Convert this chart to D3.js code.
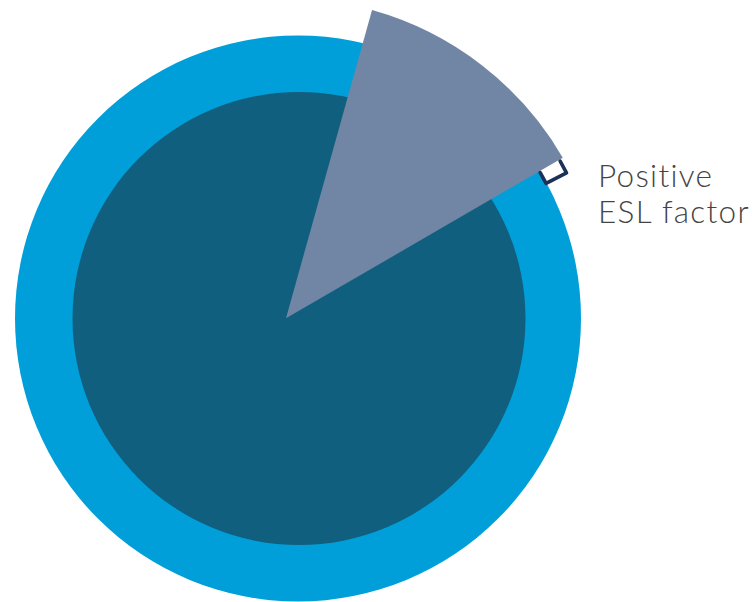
<!DOCTYPE html>
<html>
<head>
<meta charset="utf-8">
<script src="https://cdn.jsdelivr.net/npm/d3@7"></script>
<style>
  html, body { margin: 0; padding: 0; background: #ffffff; }
  svg { display: block; }
</style>
</head>
<body>
<div id="chart"></div>
<script>
// Share of respondents by ESL factor (percent)
const categories = ["Positive ESL factor", "Other"];
const values = [12.3, 87.7];
const labelLines = ["Positive", "ESL factor"];

const width = 756, height = 602;
const svg = d3.select("#chart").append("svg")
  .attr("width", width).attr("height", height);

// Background discs
svg.append("circle").attr("cx", 298).attr("cy", 318.5).attr("r", 283)
  .attr("fill", "#009fd9");
svg.append("circle").attr("cx", 299).attr("cy", 318.5).attr("r", 226.5)
  .attr("fill", "#115f7e");

// Highlighted slice, pulled out beyond the ring
const startDeg = 15.6;
const pie = d3.pie().sort(null).value(d => d)
  .startAngle(startDeg * Math.PI / 180)
  .endAngle(startDeg * Math.PI / 180 + 2 * Math.PI);
const arcs = pie(values);

const sliceR = 320;
const g = svg.append("g").attr("transform", "translate(286,318.3)");
const arc = d3.arc().innerRadius(0).outerRadius(sliceR);
g.append("path").datum(arcs[0]).attr("d", arc).attr("fill", "#7186a5");

// Bracket marking the pulled-out edge of the slice
const endA = arcs[0].endAngle;
const pt = (a, r) => [r * Math.sin(a), -r * Math.cos(a)];
const legA = endA + 0.3 * Math.PI / 180;
const baseA = endA + 2.7 * Math.PI / 180;
const r0 = 293, r1 = 316;
const bracket = [pt(legA, r0), pt(baseA, r0), pt(baseA, r1), pt(legA, r1)];
g.append("path")
  .attr("d", d3.line()(bracket))
  .attr("fill", "none")
  .attr("stroke", "#1c3157")
  .attr("stroke-width", 3.6)
  .attr("stroke-linejoin", "round")
  .attr("stroke-linecap", "round");

// Label, one text element per line
svg.selectAll("text.label").data(labelLines).join("text")
  .attr("class", "label")
  .attr("x", 598)
  .attr("y", (d, i) => 187 + i * 36)
  .attr("font-family", "Lato, 'Open Sans', sans-serif")
  .attr("font-weight", 300)
  .attr("font-size", 31.5)
  .attr("letter-spacing", 1.3)
  .attr("fill", "#444444")
  .text(d => d);
</script>
</body>
</html>
